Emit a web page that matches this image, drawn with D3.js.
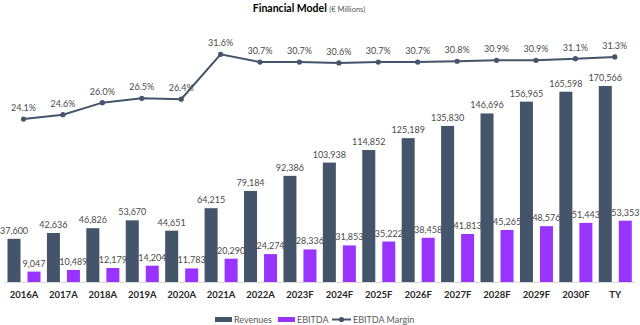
<!DOCTYPE html>
<html><head><meta charset="utf-8">
<script src="https://cdn.jsdelivr.net/npm/d3@7"></script>
<style>body{margin:0;background:#fff}svg{display:block;font-family:Lato,"Open Sans",sans-serif}</style>
</head><body><svg id="c" width="640" height="325"></svg>
<script>
const categories = ["2016A","2017A","2018A","2019A","2020A","2021A","2022A","2023F","2024F","2025F","2026F","2027F","2028F","2029F","2030F","TY"];
const revenues = [37600,42636,46826,53670,44651,64215,79184,92386,103938,114852,125189,135830,146696,156965,165598,170566];
const ebitda = [9047,10489,12179,14204,11783,20290,24274,28336,31853,35222,38458,41813,45265,48576,51443,53353];
const margin = [24.1,24.6,26.0,26.5,26.4,31.6,30.7,30.7,30.6,30.7,30.7,30.8,30.9,30.9,31.1,31.3];
const seriesNames = ["Revenues","EBITDA","EBITDA Margin"];

const REV = "#44546A", EB = "#9933FF", LINE = "#44546A", TXT = "#4a4a4a";
const svg = d3.select("#c");
const x = d3.scaleBand().domain(categories).range([4.3, 635]).paddingInner(0).paddingOuter(0);
const xs = d3.scaleBand().domain(["r","e"]).range([3.2, x.bandwidth()-3.2]).paddingInner(0.35);
const yBar = d3.scaleLinear().domain([0,200000]).range([282, 52.2]);
const yM = d3.scaleLinear().domain([20,35]).range([154.4, 25]);
const fmt = d3.format(",");

// title
const t = svg.append("text").attr("x",309).attr("y",12).attr("text-anchor","middle");
t.append("tspan").attr("font-weight","bold").attr("font-size",10.5).attr("fill","#000").text("Financial Model ");
t.append("tspan").attr("font-size",7.5).attr("fill","#595959").text("(€ Millions)");

// baseline
svg.append("line").attr("x1",4.3).attr("x2",635).attr("y1",282.5).attr("y2",282.5).attr("stroke","#D9D9D9");

const g = svg.append("g");
categories.forEach((c,i)=>{
  const x0 = x(c);
  g.append("rect").attr("x",x0+xs("r")).attr("width",xs.bandwidth()).attr("y",yBar(revenues[i])).attr("height",yBar(0)-yBar(revenues[i])).attr("fill",REV);
  g.append("rect").attr("x",x0+xs("e")).attr("width",xs.bandwidth()).attr("y",yBar(ebitda[i])).attr("height",yBar(0)-yBar(ebitda[i])).attr("fill",EB);
  g.append("text").attr("x",x0+xs("r")+xs.bandwidth()/2).attr("y",yBar(revenues[i])-5).attr("text-anchor","middle").attr("font-size",9).attr("fill",TXT).text(fmt(revenues[i]));
  g.append("text").attr("x",x0+xs("e")+xs.bandwidth()/2).attr("y",yBar(ebitda[i])-5).attr("text-anchor","middle").attr("font-size",9).attr("fill",TXT).text(fmt(ebitda[i]));
  g.append("text").attr("x",x0+x.bandwidth()/2).attr("y",298).attr("text-anchor","middle").attr("font-size",9.5).attr("font-weight","bold").attr("fill","#262626").text(c);
});

// margin line
const cx = c => x(c)+x.bandwidth()/2 - 0.5;
const line = d3.line().x((d,i)=>cx(categories[i])).y(d=>yM(d));
svg.append("path").datum(margin).attr("d",line).attr("fill","none").attr("stroke",LINE).attr("stroke-width",2);
svg.selectAll(".pt").data(margin).join("circle").attr("cx",(d,i)=>cx(categories[i])).attr("cy",d=>yM(d)).attr("r",2.6).attr("fill",LINE);
svg.selectAll(".ml").data(margin).join("text").attr("x",(d,i)=>cx(categories[i])).attr("y",d=>yM(d)-8).attr("text-anchor","middle").attr("font-size",9).attr("fill",TXT).text(d=>d.toFixed(1)+"%");

// legend
const lg = svg.append("g").attr("font-size",9).attr("fill","#595959");
lg.append("rect").attr("x",215).attr("y",317).attr("width",17).attr("height",5).attr("fill",REV);
lg.append("text").attr("x",234).attr("y",323).text(seriesNames[0]);
lg.append("rect").attr("x",278).attr("y",317).attr("width",17).attr("height",5).attr("fill",EB);
lg.append("text").attr("x",297).attr("y",323).text(seriesNames[1]);
lg.append("line").attr("x1",332).attr("x2",351).attr("y1",319.5).attr("y2",319.5).attr("stroke",LINE).attr("stroke-width",2);
lg.append("circle").attr("cx",341.5).attr("cy",319.5).attr("r",2.6).attr("fill",LINE);
lg.append("text").attr("x",353).attr("y",323).text(seriesNames[2]);
</script></body></html>
